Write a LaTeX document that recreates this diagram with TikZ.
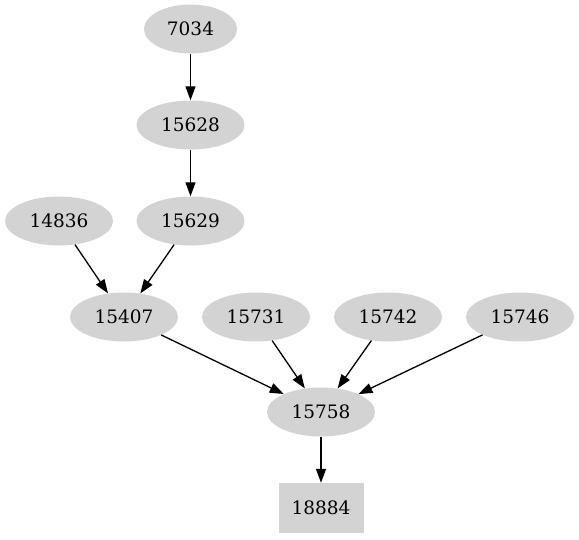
\documentclass[tikz,border=0pt]{standalone}
\usepackage{fontspec}
\setmainfont{DejaVu Serif}
\usetikzlibrary{arrows.meta,shapes.geometric}

\tikzstyle{oval} = [ellipse, minimum width=108pt, minimum height=49pt, inner sep=0pt, fill={rgb,255:red,211;green,211;blue,211}, font=\fontsize{18.5}{22}\selectfont]
\tikzstyle{square} = [rectangle, minimum width=85pt, minimum height=50pt, inner sep=0pt, fill={rgb,255:red,211;green,211;blue,211}, font=\fontsize{18.5}{22}\selectfont]
\tikzstyle{arrow} = [line width=1.3pt,-{Triangle[length=14pt,width=10pt]}]

\begin{document}
\begin{tikzpicture}[x=1pt, y=-1pt, node distance=96pt]
    \useasboundingbox (0,0) rectangle (579,539);

    \node (n7034) [oval, minimum width=93pt] at (190.5,29) {7034};
    \node (n15628) [oval, below of=n7034] {15628};
    \node (n15629) [oval, below of=n15628] {15629};
    \node (n14836) [oval] at (59,221) {14836};

    \node (n15407) [oval] at (124,317) {15407};
    \node (n15731) [oval] at (256,317) {15731};
    \node (n15742) [oval] at (388,317) {15742};
    \node (n15746) [oval] at (520,317) {15746};

    \node (n15758) [oval] at (321,412) {15758};
    \node (n18884) [square, below of=n15758] {18884};

    \draw [arrow] (n7034) -- (n15628);
    \draw [arrow] (n15628) -- (n15629);
    \draw [arrow] (n14836) -- (n15407);
    \draw [arrow] (n15629) -- (n15407);
    \draw [arrow] (n15407) -- (n15758);
    \draw [arrow] (n15731) -- (n15758);
    \draw [arrow] (n15742) -- (n15758);
    \draw [arrow] (n15746) -- (n15758);
    \draw [arrow] (n15758) -- (n18884);

\end{tikzpicture}
\end{document}
